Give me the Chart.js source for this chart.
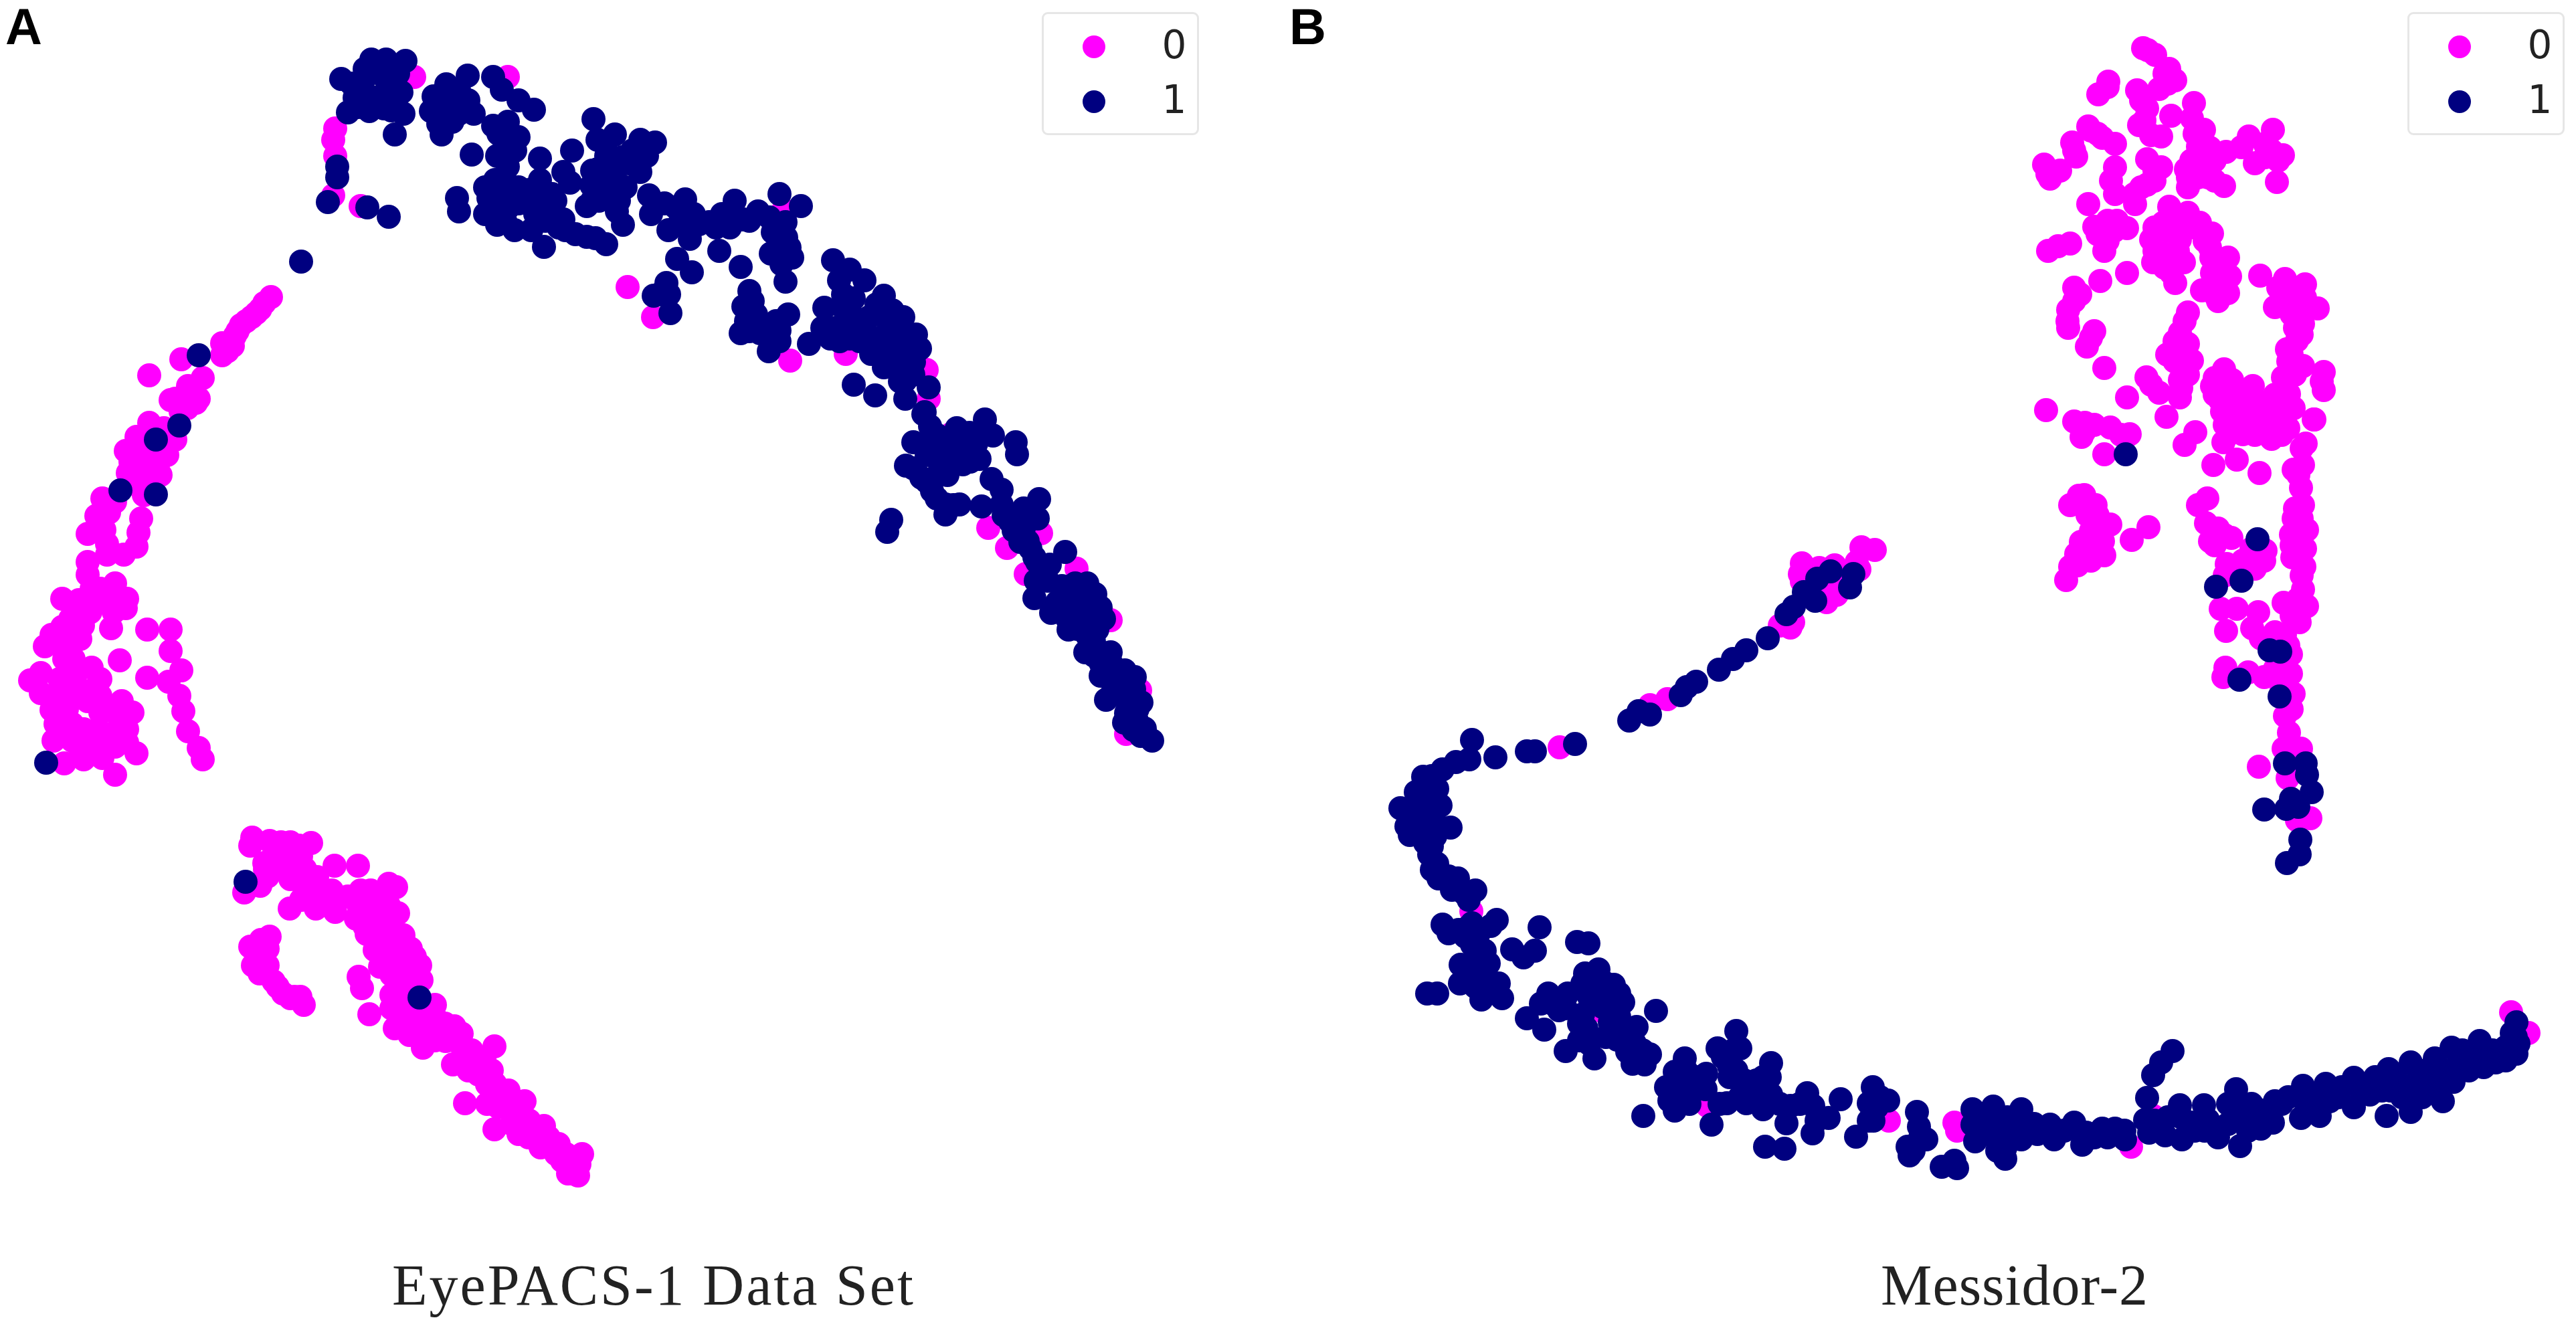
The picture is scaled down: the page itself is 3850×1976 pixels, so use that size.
<!DOCTYPE html>
<html>
<head>
<meta charset="utf-8">
<script src="https://cdn.jsdelivr.net/npm/chart.js@4"></script>
<style>
    html, body { margin: 0; padding: 0; background: #fff; overflow: hidden; }
    #page { position: relative; width: 3850px; height: 1976px; }
    canvas { position: absolute; top: 0; }
    .letter { position: absolute; top: -4px; font: bold 76px "Liberation Sans"; color: #000; line-height: 88px; }
    .caption { position: absolute; top: 1871px; font: 86px "Liberation Serif"; color: #222; line-height: 100px; white-space: nowrap; }
    .legend { position: absolute; top: 18px; width: 229px; height: 178px; border: 3px solid #e6e6e6; border-radius: 9px; background: #fff; }
    .legend span { position: absolute; }
    .legend .dot { left: 58px; width: 34px; height: 34px; border-radius: 50%; }
    .legend .label { left: 170px; width: 50px; height: 70px; text-align: center; font: 58px "DejaVu Sans"; line-height: 70px; color: #222; }
</style>
</head>
<body>
<div id="page">
    <canvas id="chart-a" width="1925" height="1976" style="left:0"></canvas>
    <canvas id="chart-b" width="1925" height="1976" style="left:1925px"></canvas>
    <div class="letter" style="left:8px">A</div>
    <div class="letter" style="left:1927px">B</div>
    <div class="caption" style="left:586px;letter-spacing:3px">EyePACS-1 Data Set</div>
    <div class="caption" style="left:2811px;letter-spacing:1px">Messidor-2</div>
    <div class="legend" id="legend-a" style="left:1557px"></div>
    <div class="legend" id="legend-b" style="left:3598px"></div>
</div>
<script>
const class_labels = ['0', '1'];
const class_colors = ['#ff00ff', '#000080'];

// values, [x, y]
const eyepacs_0 = [
    [619,115],[759,115],[501,192],[498,209],[501,233],[498,292],[539,308],[938,429],[976,474],[1181,539],[1264,529],[1171,314],
    [1385,553],[1388,596],[1421,649],[1477,789],[1505,819],[1556,797],[1533,858],[1609,850],[1660,927],[1704,1032],[1683,1097],
    [405,444],[395,453],[389,462],[383,468],[376,474],[368,480],[360,486],[355,495],[351,502],[332,513],[348,517],[340,525],[332,531],[271,537],[223,561],[303,565],[281,577],[297,596],[262,596],
    [293,602],[255,598],[280,610],[270,615],[290,590],[245,640],[223,632],[262,657],[204,653],[188,674],[211,678],[220,680],[236,695],[250,680],[240,660],[191,707],[223,712],[205,700],[240,710],[195,690],[205,725],
    [153,745],[172,750],[215,740],[144,771],[163,766],
    [131,798],[156,792],[160,813],[211,775],[207,796],[204,817],[185,829],[160,829],[131,840],[131,859],
    [172,872],[137,880],[93,895],[118,897],[147,897],[172,893],[188,909],[124,935],[166,939],[93,937],[77,949],[67,966],[99,966],[96,985],
    [150,900],[170,915],[135,915],[150,880],[190,895],[105,925],[120,955],[85,960],[110,985],
    [220,941],[255,941],[255,973],[179,987],[220,1013],[271,1002],[252,1019],[268,1040],[274,1063],[281,1093],[297,1118],[303,1135],
    [45,1017],[61,1006],[61,1036],[89,1015],[112,1013],[137,998],[150,1015],[137,1032],[89,1036],[77,1061],[108,1040],[131,1048],
    [182,1048],[198,1065],[172,1065],[83,1082],[80,1107],[108,1082],[108,1107],[147,1090],[172,1095],[134,1112],[172,1116],[204,1126],
    [96,1141],[121,1124],[153,1133],[172,1158],[100,1060],[90,1060],[100,1085],[125,1090],[150,1065],[150,1110],[125,1135],[190,1090],[190,1110],[150,1040],
    [377,1252],[374,1264],[403,1257],[434,1259],[465,1260],[420,1259],[447,1264],[396,1299],[416,1299],[443,1294],[456,1299],[474,1311],
    [500,1294],[535,1294],[434,1314],[452,1321],[465,1329],[496,1331],[389,1324],[365,1334],[433,1358],[472,1358],[501,1363],[487,1349],
    [440,1305],[425,1285],[400,1310],[410,1275],[450,1280],[395,1290],[470,1340],[450,1345],[480,1340],[505,1345],
    [539,1331],[554,1331],[581,1321],[592,1326],[536,1353],[559,1353],[581,1353],[532,1373],[554,1373],[583,1373],[548,1396],[568,1408],
    [520,1340],[545,1345],[570,1335],[570,1360],[545,1385],[570,1385],[595,1365],[575,1425],[600,1425],[620,1430],[560,1420],[590,1440],
    [590,1393],[603,1398],[590,1413],[614,1418],[628,1443],[608,1438],[568,1445],[536,1460],[541,1477],[585,1457],[608,1462],[585,1487],
    [605,1450],[615,1465],[630,1465],[595,1475],[610,1490],[605,1510],[620,1510],[610,1530],[630,1545],[650,1520],[665,1530],[650,1555],[690,1545],
    [552,1516],[650,1502],[585,1507],[590,1537],[612,1547],[632,1566],[630,1522],[648,1537],[679,1534],[666,1556],[688,1561],[677,1591],
    [695,1581],[739,1564],[724,1581],[715,1606],[695,1649],[728,1621],[728,1650],[746,1636],[784,1646],[764,1655],[739,1688],[775,1695],
    [705,1570],[700,1600],[715,1585],[735,1600],[740,1620],[745,1655],[760,1630],[765,1680],[790,1700],[800,1690],[820,1700],[835,1710],[855,1730],[870,1725],[840,1735],[860,1755],
    [791,1675],[813,1683],[808,1715],[831,1725],[846,1725],[866,1740],[849,1754],[864,1757],
    [403,1400],[374,1415],[400,1418],[378,1443],[400,1443],[409,1467],[423,1485],[449,1490],[454,1502],[434,1492],[388,1430],[388,1455],[415,1475],[440,1490],[390,1405]
];
const eyepacs_1 = [
    [510,118],[555,89],[577,89],[606,91],[545,103],[574,115],[542,126],[587,126],[600,138],[530,146],[561,146],[520,168],[552,166],[603,170],[574,162],[590,201],
    [565,105],[525,125],[590,150],[545,140],[575,140],[535,160],[585,165],[595,110],
    [699,113],[667,126],[648,144],[686,134],[644,166],[667,158],[708,170],[676,182],[660,201],[686,170],[660,145],[680,150],[660,175],[690,155],[655,185],[700,150],
    [737,115],[750,134],[775,150],[798,164],[737,188],[759,182],[775,205],[759,217],[705,231],[743,233],[759,249],[740,269],[730,296],[759,288],
    [745,200],[760,200],[770,225],[745,270],[755,270],[725,280],[745,300],[760,310],[790,300],[800,300],[800,320],[815,330],[825,290],
    [743,312],[775,304],[743,336],[769,344],[794,344],[813,369],[683,296],[686,316],[775,280],[805,290],[830,300],[835,340],[860,350],[755,330],[725,320],
    [807,237],[855,225],[842,257],[807,269],[791,284],[817,292],[823,312],[842,328],[845,344],[877,354],[906,365],[890,356],[852,273],
    [887,178],[919,201],[893,209],[957,209],[979,213],[967,233],[906,233],[944,245],[957,257],[893,253],[919,261],[884,277],[877,308],
    [900,260],[905,290],[895,300],[930,235],[945,225],[960,235],[885,300],[885,255],[905,215],[935,280],[925,300],
    [919,292],[922,316],[931,336],[970,292],[973,320],[504,249],[504,265],[490,302],[549,310],[581,324],[450,391],[297,531],
    [993,304],[1024,298],[999,344],[1031,357],[1037,320],[1012,387],[1034,407],[996,423],[977,442],[1002,468],[1000,440],[985,440],
    [1010,310],[1015,335],[1045,335],[1070,340],[1085,320],[1095,320],[1120,330],[1150,325],[1160,350],[1175,355],[1160,380],[1180,370],
    [1098,300],[1079,320],[1060,332],[1091,340],[1075,375],[1111,328],[1133,316],[1107,399],[1165,290],[1197,308],[1174,332],[1155,347],
    [1168,365],[1152,379],[1184,385],[1168,395],[1174,421],[1120,435],[1111,458],[1130,470],[1107,498],[1136,498],[1149,525],[1165,510],[1178,470],[1165,494],
    [1115,480],[1125,450],[1120,495],[1150,500],[1160,480],
    [1245,389],[1254,419],[1270,403],[1292,419],[1276,446],[1232,460],[1229,490],[1209,514],[1241,506],[1276,474],[1270,506],[1299,474],
    [1321,442],[1334,464],[1350,474],[1308,506],[1302,529],[1327,494],[1347,514],[1369,500],[1375,521],[1321,549],[1347,549],[1366,541],
    [1260,440],[1260,460],[1250,490],[1285,495],[1285,510],[1255,510],[1310,455],[1320,470],[1320,520],[1340,490],[1330,530],[1360,520],[1340,535],[1310,525],[1345,570],[1365,560],[1330,510],
    [1276,575],[1308,591],[1353,596],[1353,569],[1388,579],[1382,616],
    [1380,619],[1390,637],[1365,661],[1393,663],[1423,659],[1449,647],[1472,627],[1484,651],[1518,661],[1520,679],[1459,663],[1439,675],
    [1400,650],[1410,670],[1385,680],[1430,640],[1450,670],[1425,670],[1470,650],[1450,690],[1405,700],[1365,700],[1385,720],[1400,745],[1425,755],
    [1464,686],[1418,682],[1439,694],[1416,710],[1354,696],[1377,714],[1393,734],[1413,754],[1413,769],[1434,754],[1467,757],[1482,716],
    [1497,732],[1497,754],[1515,769],[1553,746],[1551,775],[1530,773],[1515,793],[1536,809],[1546,833],[1592,825],[1569,844],[1332,777],[1326,795],
    [1500,770],[1510,780],[1530,790],[1525,810],[1540,820],[1550,840],[1560,860],[1530,760],
    [1548,868],[1546,894],[1566,868],[1587,876],[1607,872],[1625,872],[1587,900],[1571,916],[1597,941],[1594,923],[1617,900],[1637,888],
    [1580,900],[1605,890],[1600,910],[1620,920],[1610,940],[1625,950],[1650,925],[1635,980],[1650,1010],[1660,990],[1675,1010],[1660,1040],[1680,1040],[1695,1030],[1690,1060],[1700,1060],[1680,1080],[1705,1100],[1665,1030],
    [1645,908],[1627,923],[1640,941],[1622,975],[1635,959],[1660,975],[1645,991],[1645,1010],[1681,1002],[1696,1012],[1663,1014],[1653,1046],
    [1673,1034],[1706,1050],[1683,1066],[1694,1091],[1711,1089],[1722,1107],[1699,1077],
    [180,733],[233,739],[268,636],[233,657],[69,1140],[367,1318],[627,1491]
];
const messidor_0 = [
    [3203,72],[3221,82],[3242,103],[3251,120],[3227,133],[3151,122],[3136,141],[3194,135],[3209,162],[3197,187],[3215,202],[3230,204],[3245,173],
    [3210,75],[3235,110],[3240,125],[3200,150],[3205,180],[3290,210],[3310,240],[3300,225],[3275,240],[3280,200],[3350,220],[3395,225],[3405,240],[3385,235],[3150,130],
    [3279,154],[3276,177],[3294,194],[3285,219],[3303,221],[3327,227],[3294,238],[3361,204],[3397,194],[3385,215],[3412,232],[3370,244],[3403,272],
    [3121,189],[3097,213],[3103,234],[3142,206],[3161,215],[3055,246],[3079,255],[3064,267],[3161,250],[3161,290],[3209,238],[3230,250],[3209,276],
    [3100,225],[3060,260],[3135,200],[3125,195],[3155,270],[3220,270],[3220,255],[3190,290],[3200,280],[3270,265],[3285,265],[3310,270],
    [3191,305],[3267,253],[3270,280],[3300,265],[3324,278],[3121,305],
    [3242,309],[3270,318],[3288,333],[3306,349],[3303,370],[3330,385],[3333,413],[3306,408],[3291,434],[3315,450],[3330,438],
    [3250,320],[3260,330],[3280,340],[3295,360],[3305,385],[3320,390],[3320,420],[3305,430],[3310,440],
    [3130,339],[3164,330],[3179,341],[3148,354],[3145,375],[3094,364],[3061,375],[3076,368],[3140,340],[3150,330],[3150,360],[3135,350],[3160,345],
    [3233,333],[3215,358],[3258,358],[3218,392],[3264,392],[3233,379],[3251,423],[3245,408],[3220,340],[3240,345],[3220,375],[3255,375],[3235,400],[3250,395],
    [3179,408],[3139,420],[3109,440],[3091,463],[3091,490],[3130,495],[3119,518],[3145,550],[3100,450],[3100,430],[3090,480],[3125,505],
    [3378,412],[3415,417],[3445,425],[3400,459],[3427,446],[3464,461],[3442,484],[3433,509],[3418,522],[3442,547],[3412,564],[3473,556],[3473,583],
    [3405,430],[3420,440],[3445,445],[3440,465],[3410,445],[3425,470],[3430,490],[3440,500],[3420,540],[3425,530],[3430,560],[3415,580],[3470,570],
    [3270,467],[3258,497],[3239,530],[3270,514],[3276,539],[3258,568],[3258,594],[3208,564],[3227,587],[3179,594],[3238,623],[3058,613],
    [3265,480],[3250,510],[3250,540],[3265,545],[3270,560],[3260,580],[3215,575],
    [3324,552],[3306,577],[3336,568],[3367,577],[3318,598],[3348,606],[3385,602],[3421,589],[3427,610],[3336,623],[3458,627],[3412,623],
    [3310,565],[3325,575],[3310,590],[3325,590],[3345,590],[3335,600],[3330,610],[3355,590],[3400,590],[3405,610],[3375,610],[3395,625],[3370,625],[3345,625],[3325,635],[3400,640],[3420,640],[3410,650],[3370,650],[3330,650],[3410,600],
    [3116,632],[3111,653],[3154,639],[3183,649],[3145,679],[3281,646],[3265,665],[3323,661],[3308,695],[3343,687],[3377,707],[3352,649],[3395,656],
    [3100,630],[3130,635],[3170,650],[3115,645],
    [3321,615],[3348,615],[3388,615],[3415,624],[3459,627],[3428,610],[3446,663],[3442,695],[3428,702],[3439,729],[3442,755],[3428,775],[3448,792],
    [3424,799],[3426,833],[3444,847],[3442,881],[3413,901],[3448,906],[3437,930],
    [3440,670],[3435,710],[3430,760],[3425,815],[3440,775],[3445,820],[3440,860],[3435,895],[3425,920],[3400,945],[3395,960],[3420,965],[3400,1000],[3410,1000],[3360,1005],[3410,1030],[3425,1060],
    [3107,741],[3094,755],[3132,755],[3154,784],[3125,794],[3143,809],[3125,838],[3145,830],[3103,828],[3094,847],[3088,867],[3211,788],[3186,807],
    [3120,770],[3135,770],[3110,810],[3130,815],[3105,845],[3125,820],[3140,790],[3120,755],[3115,740],
    [3299,745],[3285,755],[3297,782],[3303,809],[3335,804],[3328,843],[3352,838],[3384,838],[3386,823],
    [3315,790],[3310,815],[3325,800],[3365,820],[3370,850],[3325,860],[3355,855],
    [3319,910],[3343,910],[3375,915],[3327,943],[3366,939],[3379,954],[3415,949],[3424,978],[3326,998],[3323,1012],[3384,1012],[3424,1007],[3428,1037],
    [3415,1070],[3421,1095],[3413,1119],[3439,1119],[3376,1146],[3419,1163],[3453,1223],[3433,1226],
    [2782,818],[2802,822],[2693,842],[2719,849],[2742,845],[2779,851],[2693,869],[2745,889],[2730,900],[2676,938],[2492,1045],[2466,1054],[2331,1117],[2199,1362],
    [2700,860],[2725,875],[2740,885],[2690,858],[2755,860],[2680,930],[2660,935],[2735,855],[2775,840],
    [2823,1675],[2925,1690],[2552,1653],[2394,1511],[2921,1678],[3185,1714],[3218,1668],[3753,1513],[3779,1544]
];
const messidor_1 = [
    [3177,679],[3374,806],[3350,868],[3312,877],[3392,972],[3408,974],[3347,1016],[3407,1041],
    [3415,1141],[3446,1141],[3448,1158],[3455,1184],[3424,1194],[3435,1206],[3417,1209],[3384,1210],[3438,1255],[3437,1277],[3418,1290],
    [2736,854],[2716,865],[2696,885],[2713,898],[2770,858],[2765,878],[2670,918],[2681,907],[2642,954],[2610,972],[2590,985],[2569,1001],
    [2535,1019],[2521,1027],[2512,1039],[2466,1068],[2449,1063],[2435,1077],[2354,1112],[2294,1123],[2282,1123],[2235,1132],[2200,1106],[2196,1135],
    [2176,1139],[2156,1150],[2127,1161],[2148,1179],[2116,1184],[2153,1204],[2093,1208],[2125,1210],[2102,1235],[2130,1235],[2168,1237],[2107,1248],
    [2145,1250],[2136,1277],[2148,1291],[2150,1313],[2179,1313],[2188,1335],[2205,1331],
    [2125,1185],[2130,1170],[2145,1195],[2140,1215],[2120,1240],[2105,1220],[2150,1235],[2130,1260],[2140,1300],[2165,1310],[2170,1330],[2195,1345],[2140,1265],[2125,1195],[2140,1160],
    [2156,1382],[2165,1395],[2194,1386],[2237,1375],[2228,1384],[2301,1386],[2200,1412],[2219,1421],[2260,1419],[2277,1431],[2294,1421],[2357,1408],
    [2190,1400],[2210,1395],[2205,1440],[2215,1465],[2195,1450],[2205,1475],[2225,1440],[2240,1470],[2200,1380],[2180,1390],
    [2374,1410],[2183,1442],[2216,1447],[2182,1470],[2222,1468],[2214,1494],[2245,1492],[2133,1485],[2148,1485],
    [2369,1455],[2389,1449],[2412,1472],[2394,1485],[2426,1498],[2475,1511],[2314,1485],[2343,1485],[2303,1500],[2282,1522],[2308,1539],[2340,1507],
    [2340,1490],[2330,1510],[2360,1530],[2385,1500],[2375,1490],[2395,1505],[2410,1500],[2420,1520],[2400,1470],[2385,1470],[2365,1470],[2420,1485],[2400,1550],[2425,1545],[2445,1575],[2455,1570],[2440,1590],[2360,1555],[2375,1560],[2320,1500],
    [2366,1516],[2371,1537],[2406,1528],[2417,1554],[2446,1535],[2443,1559],[2340,1571],[2383,1582],[2432,1572],[2466,1576],[2458,1591],
    [2518,1582],[2503,1602],[2538,1610],[2567,1567],[2595,1541],[2601,1567],[2584,1593],[2647,1589],[2635,1610],[2509,1628],[2549,1628],[2495,1645],
    [2520,1600],[2530,1630],[2490,1625],[2525,1650],[2550,1605],[2575,1580],[2590,1570],[2585,1610],[2595,1600],[2610,1625],[2600,1640],[2570,1650],[2640,1630],[2625,1615],[2645,1610],[2640,1645],[2660,1650],[2715,1675],[2690,1650],[2800,1675],[2805,1655],[2810,1640],[2870,1700],[2860,1720],
    [2503,1660],[2456,1668],[2558,1681],[2581,1649],[2607,1615],[2624,1636],[2635,1658],[2610,1649],[2647,1636],
    [2676,1653],[2670,1679],[2701,1634],[2710,1653],[2733,1671],[2751,1643],[2709,1694],[2638,1714],[2667,1717],
    [2799,1625],[2822,1645],[2793,1649],[2793,1675],[2774,1699],[2865,1662],[2868,1684],[2879,1703],[2851,1714],[2854,1727],[2902,1744],[2925,1746],
    [2948,1658],[2979,1654],[3021,1658],[2948,1681],[2979,1678],[3015,1674],[2952,1706],[2985,1697],[3021,1703],[2997,1732],[2997,1716],[2921,1735],
    [2960,1680],[2970,1695],[3000,1670],[3005,1690],[2965,1665],[3010,1700],[2985,1720],[3040,1680],[3045,1695],[3085,1690],[3130,1700],[3150,1700],[3175,1690],[3220,1675],[3225,1690],[3260,1670],[3280,1690],[3295,1690],[3240,1670],
    [3064,1681],[3070,1703],[3100,1678],[3112,1711],[3142,1687],[3118,1693],[3176,1703],[3161,1687],
    [3247,1571],[3230,1588],[3218,1607],[3209,1641],[3206,1674],[3212,1693],[3258,1652],[3294,1652],[3236,1697],[3261,1703],[3276,1678],[3300,1674],
    [3315,1700],[3342,1628],[3348,1652],[3351,1674],[3348,1713],[3379,1687],[3400,1646],[3397,1678],[3442,1623],[3439,1671],[3467,1668],[3476,1620],
    [3330,1650],[3330,1680],[3365,1650],[3360,1690],[3380,1660],[3410,1650],[3420,1640],[3455,1640],[3465,1645],[3500,1625],[3495,1640],[3525,1625],[3550,1610],[3560,1630],[3580,1610],[3590,1640],[3615,1600],[3620,1640],[3640,1620],[3655,1600],[3690,1575],[3690,1600],[3725,1570],[3745,1565],[3745,1585],[3680,1570],[3760,1550],
    [3445,1646],[3482,1646],[3518,1611],[3518,1655],[3542,1636],[3570,1598],[3567,1668],[3603,1588],[3573,1630],[3603,1662],[3597,1623],[3639,1582],
    [3667,1617],[3651,1646],[3627,1620],[3664,1566],[3639,1601],[3706,1556],[3676,1588],[3712,1595],[3730,1588],[3761,1575],[3761,1528],[3754,1544],
    [3764,1560],[3700,1572]
];

function to_points(pairs) {
    return pairs.map(p => ({x: p[0], y: p[1]}));
}

function build_legend(chart, element) {
    const row_tops = [32, 114];
    const items = Chart.defaults.plugins.legend.labels.generateLabels(chart)
        .sort((a, b) => a.datasetIndex - b.datasetIndex);
    items.forEach((item, i) => {
        const dot = document.createElement('span');
        dot.className = 'dot';
        dot.style.top = row_tops[i] + 'px';
        dot.style.background = item.fillStyle;
        element.appendChild(dot);

        const label = document.createElement('span');
        label.className = 'label';
        label.style.top = (row_tops[i] - 21) + 'px';
        label.textContent = item.text;
        element.appendChild(label);
    });
}

function make_chart(canvas_id, legend_id, data_0, data_1, x_min, x_max) {
    const chart = new Chart(document.getElementById(canvas_id), {
        type: 'scatter',
        data: {
            datasets: [
                {label: class_labels[0], data: to_points(data_0), backgroundColor: class_colors[0], order: 1},
                {label: class_labels[1], data: to_points(data_1), backgroundColor: class_colors[1], order: 0}
            ]
        },
        options: {
            responsive: false,
            animation: false,
            devicePixelRatio: 1,
            // no automatic room for the marker radius, the scales span the whole canvas
            layout: {padding: 0, autoPadding: false},
            elements: {point: {radius: 18, borderWidth: 0, hoverRadius: 18}},
            scales: {
                x: {type: 'linear', display: false, min: x_min, max: x_max},
                y: {type: 'linear', display: false, min: 0, max: 1976, reverse: true}
            },
            plugins: {
                legend: {display: false},
                title: {display: false},
                tooltip: {enabled: false}
            }
        }
    });
    build_legend(chart, document.getElementById(legend_id));
    return chart;
}

make_chart('chart-a', 'legend-a', eyepacs_0, eyepacs_1, 0, 1925);
make_chart('chart-b', 'legend-b', messidor_0, messidor_1, 1925, 3850);
</script>
</body>
</html>
